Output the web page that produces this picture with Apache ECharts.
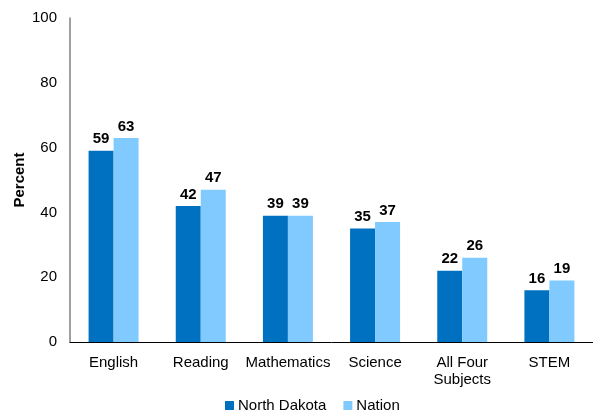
<!DOCTYPE html>
<html>
<head>
<meta charset="utf-8">
<script src="https://cdn.jsdelivr.net/npm/echarts@6/dist/echarts.min.js"></script>
<style>html,body{margin:0;padding:0;background:#fff;}#c{width:593px;height:412px;}</style>
</head>
<body>
<div id="c"></div>
<script>
const categories = ['English', 'Reading', 'Mathematics', 'Science', 'All Four\nSubjects', 'STEM'];
const northDakota = [59, 42, 39, 35, 22, 16];
const nation = [63, 47, 39, 37, 26, 19];
const yTicks = { min: 0, max: 100, interval: 20 };

const chart = echarts.init(document.getElementById('c'));
const font = 'Arial, "Liberation Sans", sans-serif';
const labelStyle = { show: true, position: 'top', fontFamily: font, fontSize: 15, fontWeight: 'bold', color: '#000', distance: 4 };
chart.setOption({
  animation: false,
  textStyle: { fontFamily: font },
  grid: { left: 70, top: 18, width: 531, height: 324 },
  legend: {
    left: 220, top: 393, itemWidth: 9, itemHeight: 9, itemGap: 17,
    icon: 'rect',
    textStyle: { fontFamily: font, fontSize: 15, color: '#000', padding: [0, 0, 0, -1] },
    data: ['North Dakota', 'Nation']
  },
  xAxis: {
    type: 'category', data: categories,
    axisLine: { lineStyle: { color: '#000', width: 1 } },
    axisTick: { show: false },
    axisLabel: { fontFamily: font, fontSize: 15, color: '#000', margin: 12, lineHeight: 17, interval: 0 }
  },
  yAxis: {
    type: 'value', min: yTicks.min, max: yTicks.max, interval: yTicks.interval,
    name: 'Percent', nameLocation: 'middle', nameGap: 43, nameMoveOverlap: false,
    nameTextStyle: { fontFamily: font, fontSize: 15, fontWeight: 'bold', color: '#000' },
    axisLine: { show: true, lineStyle: { color: '#808080', width: 1.5 } },
    axisTick: { show: false },
    splitLine: { show: false },
    axisLabel: { fontFamily: font, fontSize: 15, color: '#000', margin: 13 }
  },
  series: [
    { name: 'North Dakota', type: 'bar', data: northDakota, barWidth: 25, barGap: '0%', itemStyle: { color: '#0070C0' }, label: labelStyle },
    { name: 'Nation', type: 'bar', data: nation, barWidth: 25, barGap: '0%', itemStyle: { color: '#80CAFF' }, label: labelStyle }
  ]
});
</script>
</body>
</html>
